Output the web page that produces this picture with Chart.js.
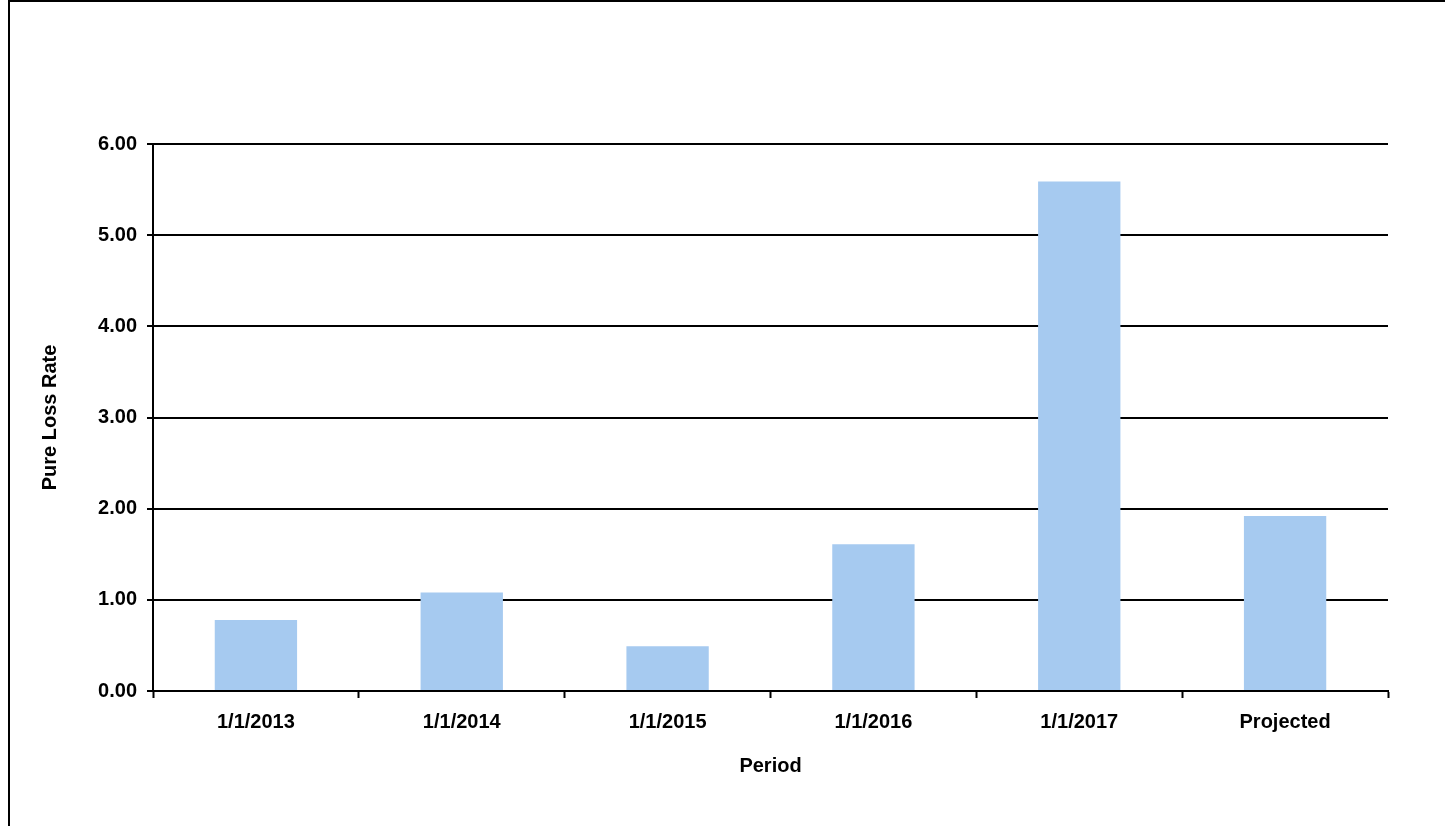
<!DOCTYPE html>
<html>
<head>
<meta charset="utf-8">
<script src="https://cdn.jsdelivr.net/npm/chart.js@4.4.1/dist/chart.umd.min.js"></script>
<style>
  html, body { margin: 0; padding: 0; background: #fff; }
  #wrap { width: 1445px; height: 826px; }
</style>
</head>
<body>
<div id="wrap"><canvas id="lossChart" width="1445" height="826"></canvas></div>
<script>
'use strict'

// pure loss rate by period
var periods = ['1/1/2013', '1/1/2014', '1/1/2015', '1/1/2016', '1/1/2017', 'Projected'];
var lossRates = [0.78, 1.08, 0.49, 1.61, 5.59, 1.92];
var yTicks = [0, 1, 2, 3, 4, 5, 6];

var labelFont = { family: 'Liberation Sans, Arial, sans-serif', size: 20, weight: 'bold' };

// white page with the frame on the left and top edges
var framePlugin = {
  id: 'frame',
  beforeDraw: function (chart) {
    var ctx = chart.ctx;
    ctx.save();
    ctx.fillStyle = '#fff';
    ctx.fillRect(0, 0, chart.width, chart.height);
    ctx.strokeStyle = '#000';
    ctx.lineWidth = 2;
    ctx.beginPath();
    ctx.moveTo(9, chart.height);
    ctx.lineTo(9, 1);
    ctx.lineTo(chart.width, 1);
    ctx.stroke();
    ctx.restore();
  }
};

function renderChart() {
  var ctx = document.getElementById('lossChart').getContext('2d');
  // slightly looser text, like the spreadsheet export
  ctx.letterSpacing = '0.5px';
  var chart = new Chart(ctx, {
    type: 'bar',
    data: {
      labels: periods,
      datasets: [{
        label: 'Pure Loss Rate',
        backgroundColor: '#a6caf0',
        borderWidth: 0,
        data: lossRates,
        barPercentage: 0.4,
        categoryPercentage: 1.0
      }]
    },
    options: {
      responsive: false,
      animation: false,
      layout: { padding: { left: 0, top: 144, right: 57, bottom: 0 } },
      plugins: {
        legend: { display: false },
        tooltip: { enabled: false }
      },
      scales: {
        x: {
          z: 1,
          grid: {
            offset: true,
            drawOnChartArea: false,
            drawTicks: true,
            tickLength: 7,
            tickWidth: 2,
            tickColor: '#000'
          },
          border: { display: true, color: '#000', width: 2 },
          ticks: {
            color: '#000',
            font: labelFont,
            padding: 12,
            maxRotation: 0,
            autoSkip: false
          },
          title: {
            display: true,
            text: 'Period',
            color: '#000',
            font: labelFont,
            padding: { top: 0, bottom: 48 }
          },
          afterFit: function (scale) { scale.height = 135; }
        },
        y: {
          min: yTicks[0],
          max: yTicks[yTicks.length - 1],
          afterBuildTicks: function (scale) {
            scale.ticks = yTicks.map(function (v) { return { value: v }; });
          },
          grid: {
            color: '#000',
            lineWidth: 2,
            drawTicks: true,
            tickLength: 6,
            tickColor: '#000'
          },
          border: { display: true, color: '#000', width: 2 },
          ticks: {
            color: '#000',
            font: labelFont,
            padding: 10,
            callback: function (v) { return Number(v).toFixed(2); }
          },
          title: {
            display: true,
            text: 'Pure Loss Rate',
            color: '#000',
            font: labelFont,
            padding: { top: 38, bottom: 0 }
          },
          afterFit: function (scale) { scale.width = 153; }
        }
      }
    },
    plugins: [framePlugin]
  });
  return chart;
}

renderChart();
</script>
</body>
</html>
